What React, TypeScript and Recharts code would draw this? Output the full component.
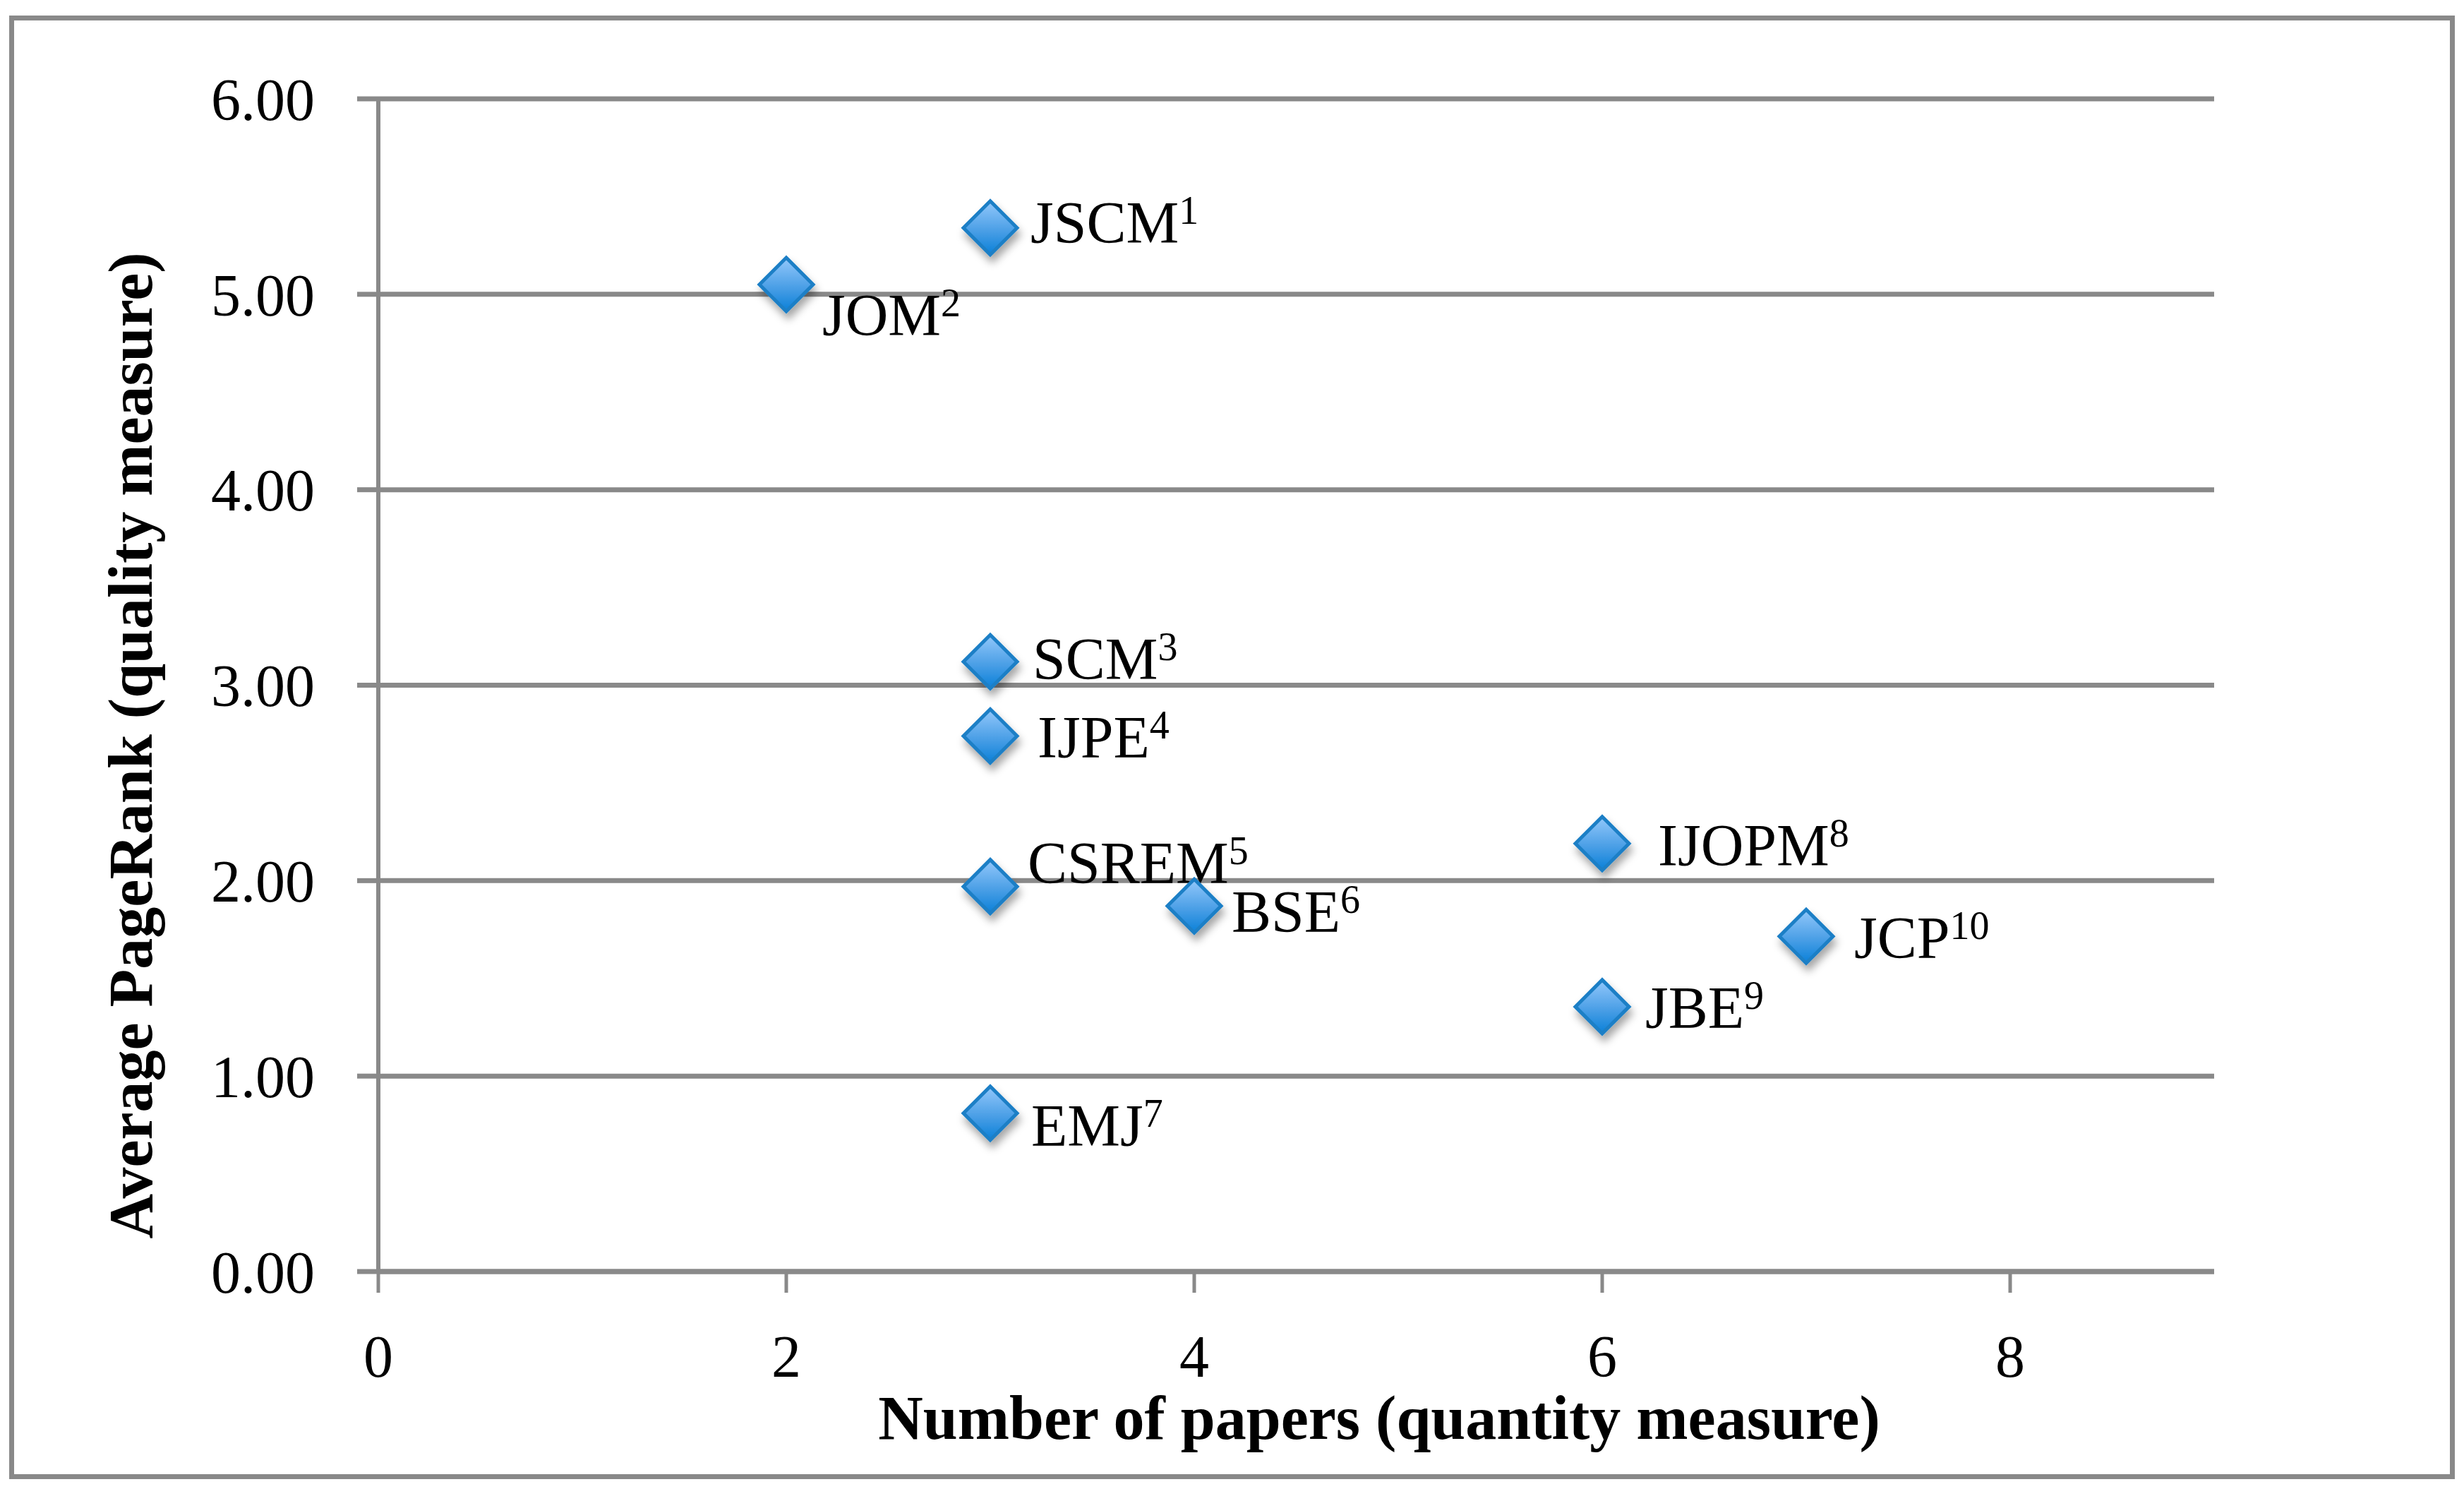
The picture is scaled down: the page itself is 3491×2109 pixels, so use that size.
import { ScatterChart, Scatter, XAxis, YAxis, CartesianGrid } from 'recharts';

const journals = ['JSCM', 'JOM', 'SCM', 'IJPE', 'CSREM', 'BSE', 'EMJ', 'IJOPM', 'JBE', 'JCP'];
const footnotes = ['1', '2', '3', '4', '5', '6', '7', '8', '9', '10'];
const papers = [3, 2, 3, 3, 3, 4, 3, 6, 6, 7];
const pageRank = [5.34, 5.05, 3.12, 2.74, 1.97, 1.87, 0.81, 2.19, 1.355, 1.715];

const xTicks = [0, 2, 4, 6, 8];
const yTicks = [0, 1, 2, 3, 4, 5, 6];
const xTitle = 'Number of papers (quantity measure)';
const yTitle = 'Average PageRank (quality measure)';

const data = journals.map((name, i) => ({ name, note: footnotes[i], x: papers[i], y: pageRank[i] }));

// where each label sits relative to its marker: [dx to text start, dy to baseline]
const labelNudge: Record<string, [number, number]> = {
  JSCM: [57, 21],
  JOM: [51, 72],
  SCM: [60, 25],
  IJPE: [67, 31],
  CSREM: [53, -5],
  BSE: [53, 37],
  EMJ: [58, 46],
  IJOPM: [79, 31],
  JBE: [61, 30],
  JCP: [68, 31],
};

const W = 3491;
const H = 2109;
const FONT = '"Liberation Serif", "Times New Roman", serif';
const GRID = '#898989';

function DiamondPoint(props: any) {
  const { cx, cy, payload } = props;
  if (cx == null || cy == null) return null;
  const r = 38;
  const [dx, dy] = labelNudge[payload.name] || [58, 28];
  return (
    <g>
      <path
        d={`M${cx},${cy - r} L${cx + r},${cy} L${cx},${cy + r} L${cx - r},${cy} Z`}
        fill="url(#markerFill)"
        stroke="#1E7FC6"
        strokeWidth={5}
        strokeLinejoin="miter"
        filter="url(#markerShadow)"
      />
      <text x={cx + dx} y={cy + dy} fontFamily={FONT} fontSize={84} fill="#000">
        <tspan>{payload.name}</tspan>
        <tspan dy={-27} fontSize={56}>{payload.note}</tspan>
      </text>
    </g>
  );
}

export default function App() {
  return (
    <div style={{ position: 'absolute', left: 0, top: 0, width: W, height: H, background: '#fff' }}>
      <svg width={W} height={H} style={{ position: 'absolute', left: 0, top: 0 }}>
        <defs>
          <linearGradient id="markerFill" x1="0" y1="0" x2="0" y2="1">
            <stop offset="0%" stopColor="#93C8FB" />
            <stop offset="55%" stopColor="#4B9FE6" />
            <stop offset="100%" stopColor="#0A80D8" />
          </linearGradient>
          <filter id="markerShadow" x="-50%" y="-50%" width="200%" height="200%">
            <feDropShadow dx="3" dy="9" stdDeviation="6" floodColor="#000" floodOpacity="0.35" />
          </filter>
        </defs>
        <rect x={16.5} y={25.5} width={3458} height={2066} fill="none" stroke={GRID} strokeWidth={7} />
        <text x={1954} y={2038} textAnchor="middle" fontFamily={FONT} fontWeight="bold" fontSize={88} fill="#000">
          {xTitle}
        </text>
        <text
          x={0}
          y={0}
          transform="translate(215,1056) rotate(-90)"
          textAnchor="middle"
          fontFamily={FONT}
          fontWeight="bold"
          fontSize={88}
          fill="#000"
        >
          {yTitle}
        </text>
      </svg>
      <div style={{ position: 'absolute', left: 0, top: 0 }}>
        <ScatterChart width={W} height={H} margin={{ top: 140, right: 354, bottom: 208, left: 336 }}>
          <CartesianGrid vertical={false} stroke={GRID} strokeWidth={7} />
          <XAxis
            type="number"
            dataKey="x"
            domain={[0, 9]}
            ticks={xTicks}
            height={100}
            axisLine={{ stroke: GRID, strokeWidth: 7 }}
            tickLine={{ stroke: GRID, strokeWidth: 5 }}
            tickSize={30}
            tickMargin={59}
            tick={{ fill: '#000', fontSize: 84, fontFamily: FONT }}
          />
          <YAxis
            type="number"
            dataKey="y"
            domain={[0, 6]}
            ticks={yTicks}
            width={200}
            axisLine={{ stroke: GRID, strokeWidth: 6 }}
            tickLine={{ stroke: GRID, strokeWidth: 7 }}
            tickSize={30}
            tickMargin={60}
            tickFormatter={(v: number) => v.toFixed(2)}
            tick={{ fill: '#000', fontSize: 84, fontFamily: FONT }}
          />
          <Scatter data={data} shape={DiamondPoint} isAnimationActive={false} />
        </ScatterChart>
      </div>
    </div>
  );
}
